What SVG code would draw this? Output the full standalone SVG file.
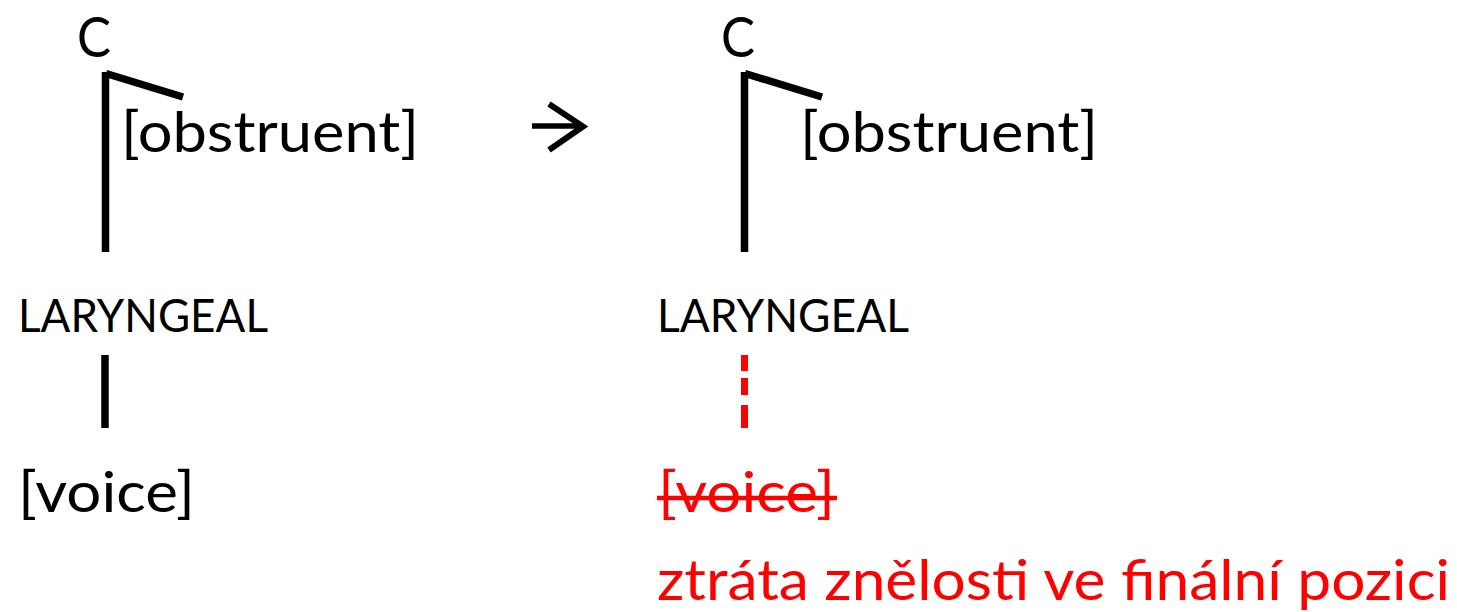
<svg xmlns="http://www.w3.org/2000/svg" width="1457" height="612" viewBox="0 0 1457 612">
<style>
text{font-family:Lato,"Open Sans","Liberation Sans",sans-serif;}
.big{font-size:57px;}
.mid{font-size:46px;}
.blk{fill:#000;}
.red{fill:#ff0000;}
.ln{stroke:#000;stroke-width:7.5;fill:none;stroke-linecap:butt;}
.rln{stroke:#ff0000;stroke-width:7;fill:none;stroke-linecap:butt;}
</style>
<rect width="1457" height="612" fill="#fff"/>
<g id="connectors">
<line class="ln" x1="105.5" y1="72" x2="105.5" y2="252"/>
<line class="ln" x1="106" y1="73.5" x2="183" y2="97"/>
<line class="ln" x1="105" y1="355" x2="105" y2="428"/>
<line class="ln" x1="744.5" y1="72" x2="744.5" y2="252"/>
<line class="ln" x1="745" y1="73.5" x2="822" y2="97"/>
<line class="rln" x1="744.5" y1="355" x2="744.5" y2="428" stroke-dasharray="16 7 17 10 23"/>
</g>
<g id="arrow">
<path d="M532 126 H582" stroke="#000" stroke-width="5.5" fill="none"/>
<path d="M549 104 L583 126.5 L549 150" stroke="#000" stroke-width="6" fill="none" stroke-linejoin="miter"/>
</g>
<g id="left-C"><text class="big blk" x="77" y="57" textLength="34" lengthAdjust="spacingAndGlyphs">C</text></g>
<g id="left-obstruent"><text class="big blk" x="121" y="152" textLength="298" lengthAdjust="spacingAndGlyphs">[obstruent]</text></g>
<g id="left-laryngeal"><text class="mid blk" x="18" y="332" textLength="250" lengthAdjust="spacingAndGlyphs">LARYNGEAL</text></g>
<g id="left-voice"><text class="big blk" x="18" y="512" textLength="177" lengthAdjust="spacingAndGlyphs">[voice]</text></g>
<g id="right-C"><text class="big blk" x="721" y="57" textLength="34" lengthAdjust="spacingAndGlyphs">C</text></g>
<g id="right-obstruent"><text class="big blk" x="800" y="152" textLength="298" lengthAdjust="spacingAndGlyphs">[obstruent]</text></g>
<g id="right-laryngeal"><text class="mid blk" x="657" y="332" textLength="252" lengthAdjust="spacingAndGlyphs">LARYNGEAL</text></g>
<g id="right-voice"><text class="big red" x="658" y="512" textLength="177" lengthAdjust="spacingAndGlyphs">[voice]</text>
<line x1="657" y1="498" x2="837" y2="498" stroke="#ff0000" stroke-width="4.5"/></g>
<g id="note"><text class="big red" x="657" y="600" textLength="793" lengthAdjust="spacingAndGlyphs">ztráta znělosti ve finální pozici</text></g>
</svg>
